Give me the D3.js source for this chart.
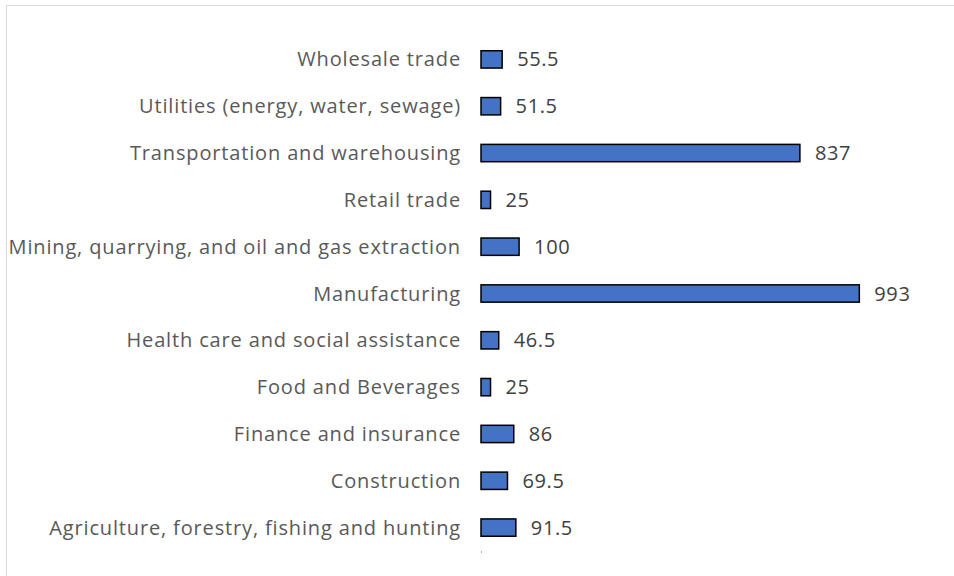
<!DOCTYPE html>
<html>
<head>
<meta charset="utf-8">
<script src="https://cdn.jsdelivr.net/npm/d3@7"></script>
<style>
  body { margin: 0; background: #fff; }
  svg { display: block; }
</style>
</head>
<body>
<div id="chart"></div>
<script>

// categories, top to bottom as shown
var categories = [
	"Wholesale trade",
	"Utilities (energy, water, sewage)",
	"Transportation and warehousing",
	"Retail trade",
	"Mining, quarrying, and oil and gas extraction",
	"Manufacturing",
	"Health care and social assistance",
	"Food and Beverages",
	"Finance and insurance",
	"Construction",
	"Agriculture, forestry, fishing and hunting"
]

var values = [55.5, 51.5, 837, 25, 100, 993, 46.5, 25, 86, 69.5, 91.5]

var width = 954
var height = 576

var svg = d3.select("#chart")
	.append("svg")
	.attr("width", width)
	.attr("height", height)

// chart frame
svg.append("path")
	.attr("d", "M6.5,576 V5.5 H954")
	.attr("fill", "none")
	.attr("stroke", "#d9d9d9")
	.attr("stroke-width", 1)

var x = d3.scaleLinear()
	.domain([0, 1000])
	.range([481, 862])

var y = d3.scaleBand()
	.domain(categories)
	.range([36, 551])
	.paddingInner(0.63)
	.paddingOuter(0.315)

var font = "'Open Sans', sans-serif"

// category labels
svg.append("g")
	.selectAll("text")
	.data(categories)
	.join("text")
		.attr("x", 461)
		.attr("y", d => y(d) + y.bandwidth() / 2)
		.attr("dy", "0.35em")
		.attr("text-anchor", "end")
		.attr("font-family", font)
		.attr("font-size", 20)
		.attr("letter-spacing", 0.85)
		.attr("fill", "#595959")
		.text(d => d)

// bars
svg.append("g")
	.selectAll("rect")
	.data(values)
	.join("rect")
		.attr("x", x(0))
		.attr("y", (d, i) => y(categories[i]))
		.attr("width", d => x(d) - x(0))
		.attr("height", y.bandwidth())
		.attr("fill", "#4472c4")
		.attr("stroke", "#000")
		.attr("stroke-width", 1.5)

// value labels
svg.append("g")
	.selectAll("text")
	.data(values)
	.join("text")
		.attr("x", d => x(d) + 15)
		.attr("y", (d, i) => y(categories[i]) + y.bandwidth() / 2)
		.attr("dy", "0.35em")
		.attr("font-family", font)
		.attr("font-size", 20)
		.attr("letter-spacing", 0.6)
		.attr("fill", "#404040")
		.text(d => d)

// the lone axis tick under the bars
svg.append("line")
	.attr("x1", x(0) + 0.5)
	.attr("x2", x(0) + 0.5)
	.attr("y1", 551)
	.attr("y2", 553)
	.attr("stroke", "#aaa")
	.attr("stroke-width", 1)

</script>
</body>
</html>
